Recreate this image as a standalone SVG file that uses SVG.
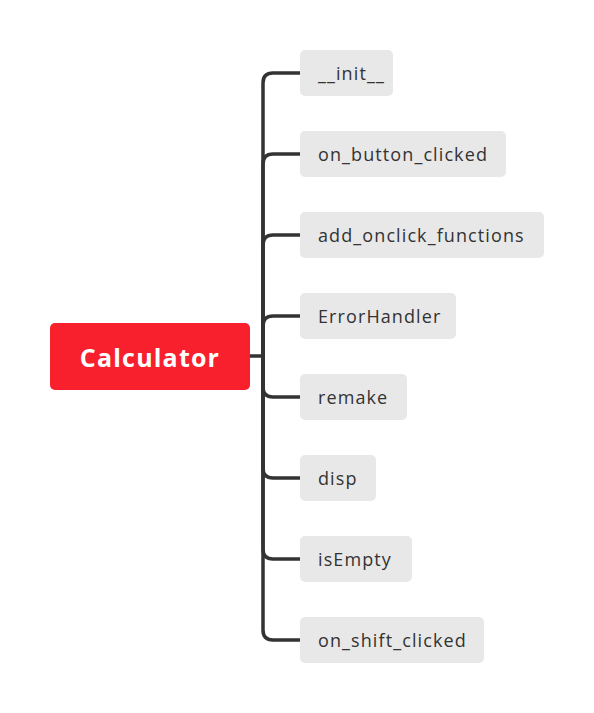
<svg xmlns="http://www.w3.org/2000/svg" width="594" height="713" viewBox="0 0 594 713">
<style>
.conn{fill:none;stroke:#333333;stroke-width:3.5;stroke-linecap:round;stroke-linejoin:round}
.child rect{fill:#E8E8E8}
.child text{font-family:"Open Sans","DejaVu Sans",sans-serif;font-size:18px;letter-spacing:1.1px;fill:#333333;dominant-baseline:central}
.root rect{fill:#F9202E}
.root text{font-family:"Open Sans","DejaVu Sans",sans-serif;font-size:25px;font-weight:bold;letter-spacing:1.2px;fill:#FFFFFF;text-anchor:middle;dominant-baseline:central}
</style>
<rect width="594" height="713" fill="#FFFFFF"/>
<g id="connectors">
<path class="conn" d="M250,356 H263 V83 Q263,73 273,73 H300"/>
<path class="conn" d="M263,356 V164 Q263,154 273,154 H300"/>
<path class="conn" d="M263,356 V245 Q263,235 273,235 H300"/>
<path class="conn" d="M263,356 V326 Q263,316 273,316 H300"/>
<path class="conn" d="M263,356 V387 Q263,397 273,397 H300"/>
<path class="conn" d="M263,356 V468 Q263,478 273,478 H300"/>
<path class="conn" d="M263,356 V549 Q263,559 273,559 H300"/>
<path class="conn" d="M263,356 V630 Q263,640 273,640 H300"/>
</g>
<g id="root" class="root"><rect x="50" y="323" width="200" height="67" rx="5"/><text x="150" y="356.5">Calculator</text></g>
<g id="n1" class="child"><rect x="300" y="50" width="93" height="46" rx="5"/><text x="318" y="73">__init__</text></g>
<g id="n2" class="child"><rect x="300" y="131" width="206" height="46" rx="5"/><text x="318" y="154">on_button_clicked</text></g>
<g id="n3" class="child"><rect x="300" y="212" width="244" height="46" rx="5"/><text x="318" y="235">add_onclick_functions</text></g>
<g id="n4" class="child"><rect x="300" y="293" width="156" height="46" rx="5"/><text x="318" y="316">ErrorHandler</text></g>
<g id="n5" class="child"><rect x="300" y="374" width="107" height="46" rx="5"/><text x="318" y="397">remake</text></g>
<g id="n6" class="child"><rect x="300" y="455" width="76" height="46" rx="5"/><text x="318" y="478">disp</text></g>
<g id="n7" class="child"><rect x="300" y="536" width="112" height="46" rx="5"/><text x="318" y="559">isEmpty</text></g>
<g id="n8" class="child"><rect x="300" y="617" width="184" height="46" rx="5"/><text x="318" y="640">on_shift_clicked</text></g>
</svg>
